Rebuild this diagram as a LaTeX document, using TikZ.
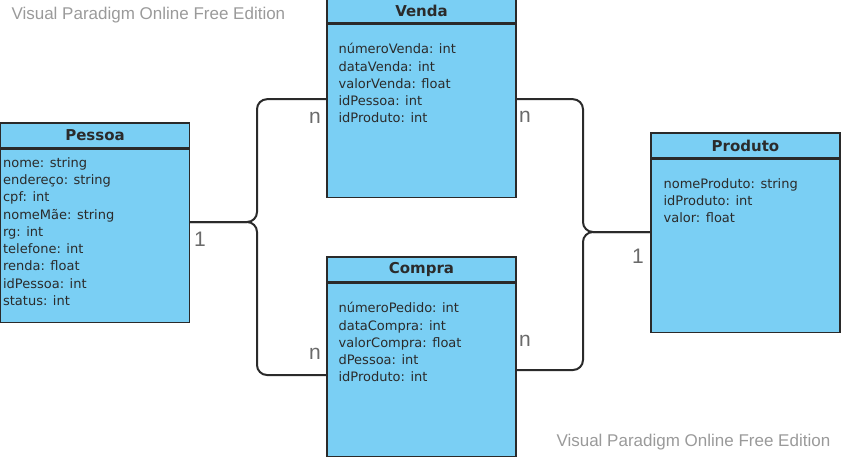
\documentclass[tikz,border=0pt]{standalone}
\usepackage{fontspec}
\setsansfont{DejaVu Sans}
\newfontfamily\labelfont{Liberation Sans}
\usetikzlibrary{positioning}
\definecolor{boxblue}{HTML}{7ACFF4}
\definecolor{linegray}{HTML}{2A2A2A}
\definecolor{textgray}{HTML}{2B2B2B}
\definecolor{multgray}{HTML}{6A6A6A}
\definecolor{wmgray}{HTML}{9A9A9A}
\tikzset{
  classhead/.style = {shape=rectangle, draw=linegray, line width=1.2pt,
                      fill=boxblue, minimum width=189pt, minimum height=25pt,
                      inner sep=0pt, text=textgray,
                      font=\sffamily\bfseries\fontsize{15}{18}\selectfont},
  classbody/.style = {shape=rectangle, draw=linegray, line width=1.2pt,
                      fill=boxblue, minimum width=189pt, minimum height=173pt,
                      inner sep=0pt},
  attrs/.style     = {align=left, inner sep=0pt, text=textgray,
                      font=\sffamily\fontsize{13}{17.3}\selectfont},
  mult/.style      = {text=multgray, font=\labelfont\fontsize{21}{24}\selectfont},
  link/.style      = {draw=linegray, line width=2pt, rounded corners=10pt},
  watermark/.style = {anchor=west, text=wmgray,
                      font=\labelfont\fontsize{17}{20}\selectfont}
}

\begin{document}
\begin{tikzpicture}[x=1pt, y=-1pt]
  \useasboundingbox (0,0) rectangle (841,456);

  \node[watermark] (wm-top) at (8,15) {Visual Paradigm Online Free Edition};
  \node[watermark] (wm-bottom) at (553,442) {Visual Paradigm Online Free Edition};

  % Pessoa
  \node[classhead] (pessoa-head) at (95,135.5) {Pessoa};
  \node[classbody, below=0pt of pessoa-head] (pessoa) {};
  \node[attrs, below right=8.5pt and 3pt of pessoa.north west]
    {nome: string\\endereço: string\\cpf: int\\nomeMãe: string\\rg: int\\
     telefone: int\\renda: float\\idPessoa: int\\status: int};

  % Venda
  \node[classhead] (venda-head) at (421.5,10.5) {Venda};
  \node[classbody, below=0pt of venda-head] (venda) {};
  \node[attrs, below right=19.5pt and 12pt of venda.north west]
    {númeroVenda: int\\dataVenda: int\\valorVenda: float\\idPessoa: int\\
     idProduto: int};

  % Compra
  \node[classhead] (compra-head) at (421.5,269.5) {Compra};
  \node[classbody, below=0pt of compra-head] (compra) {};
  \node[attrs, below right=19.5pt and 12pt of compra.north west]
    {númeroPedido: int\\dataCompra: int\\valorCompra: float\\dPessoa: int\\
     idProduto: int};

  % Produto
  \node[classhead] (produto-head) at (745.5,145.5) {Produto};
  \node[classbody, below=0pt of produto-head] (produto) {};
  \node[attrs, below right=19.5pt and 13pt of produto.north west]
    {nomeProduto: string\\idProduto: int\\valor: float};

  % associations
  \coordinate (pessoa-end) at ([yshift=13.7pt]pessoa.east);
  \coordinate (produto-end) at ([yshift=13.7pt]produto.west);
  \coordinate (venda-in) at ([yshift=11.5pt]venda.west);
  \coordinate (venda-out) at ([yshift=11.5pt]venda.east);
  \coordinate (compra-in) at ([yshift=-5.3pt]compra.west);
  \coordinate (compra-out) at ([yshift=-0.3pt]compra.east);
  \coordinate (left-joint) at (257,0);
  \coordinate (right-joint) at (583,0);
  \draw[link] (pessoa-end) -- (pessoa-end -| left-joint) |- (venda-in);
  \draw[link] (pessoa-end) -- (pessoa-end -| left-joint) |- (compra-in);
  \draw[link] (produto-end) -- (produto-end -| right-joint) |- (venda-out);
  \draw[link] (produto-end) -- (produto-end -| right-joint) |- (compra-out);

  \node[mult] (pessoa-one) at (200,239) {1};
  \node[mult] (produto-one) at (638,256) {1};
  \node[mult] (venda-n-left) at (315,118) {n};
  \node[mult] (venda-n-right) at (525,117) {n};
  \node[mult] (compra-n-left) at (315,354) {n};
  \node[mult] (compra-n-right) at (525,341) {n};
\end{tikzpicture}
\end{document}
